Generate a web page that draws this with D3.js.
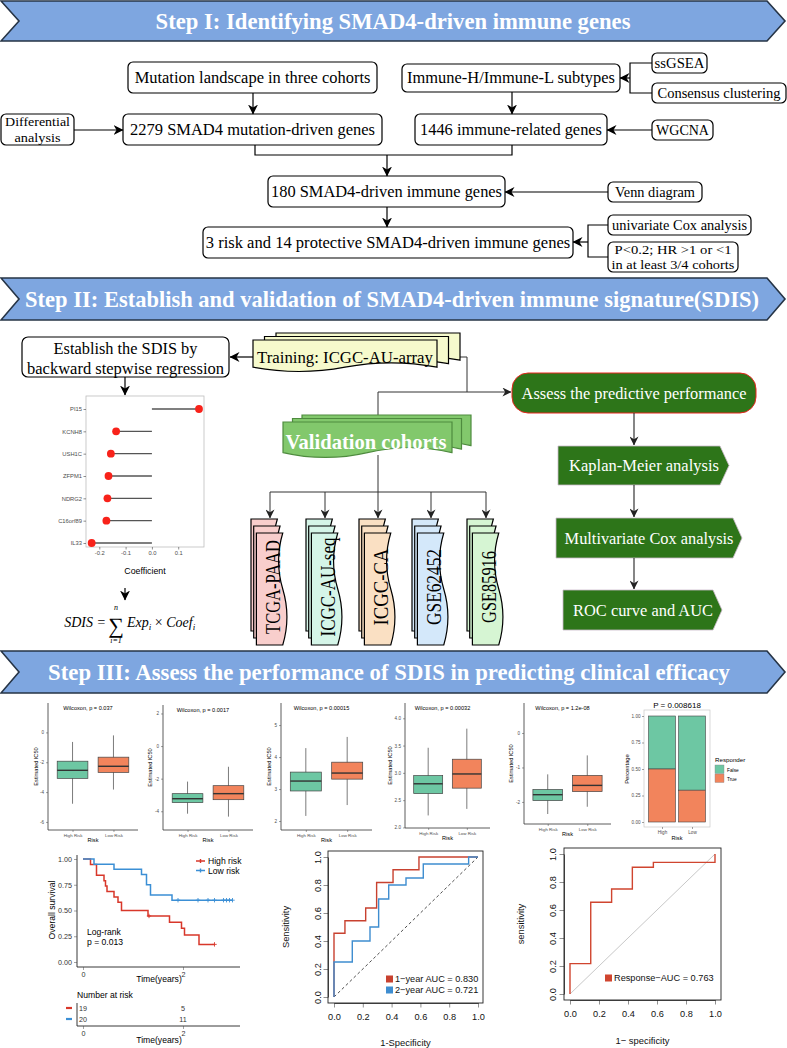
<!DOCTYPE html>
<html><head><meta charset="utf-8">
<script src="https://cdn.jsdelivr.net/npm/d3@7/dist/d3.min.js"></script>
<style>html,body{margin:0;padding:0;background:#fff;} svg{display:block;}</style>
</head><body>
<svg id="chart" width="787" height="1048" viewBox="0 0 787 1048"></svg>
<script>
// ================= DATA =================
const stepTitles = [
  "Step I: Identifying SMAD4-driven immune genes",
  "Step II: Establish and validation of SMAD4-driven immune signature(SDIS)",
  "Step III: Assess the performance of SDIS in predicting clinical efficacy"
];
const step1Labels = [
  ["Mutation landscape in three cohorts"],
  ["Differential", "analysis"],
  ["2279 SMAD4 mutation-driven genes"],
  ["Immune-H/Immune-L subtypes"],
  ["ssGSEA"],
  ["Consensus clustering"],
  ["1446 immune-related genes"],
  ["WGCNA"],
  ["180 SMAD4-driven immune genes"],
  ["Venn diagram"],
  ["3 risk and 14 protective SMAD4-driven immune genes"],
  ["univariate Cox analysis"],
  ["P<0.2; HR >1 or <1", "in at least 3/4 cohorts"]
];
const establishLabel = ["Establish the SDIS by", "backward stepwise regression"];
const trainingLabel = "Training: ICGC-AU-array";
const validationLabel = "Validation cohorts";
const cohorts = ["TCGA-PAAD", "ICGC-AU-seq", "ICGC-CA", "GSE62452", "GSE85916"];
const assessSteps = ["Assess the predictive performance", "Kaplan-Meier analysis", "Multivariate Cox analysis", "ROC curve and AUC"];

const genes = ["PI15", "KCNH8", "USH1C", "ZFPM1", "NDRG2", "C16orf89", "IL33"];
const coefs = [0.179, -0.136, -0.156, -0.165, -0.169, -0.173, -0.229];
const coefTicks = [-0.2, -0.1, 0.0, 0.1];

const riskGroups = ["High Risk", "Low Risk"];
const wilcoxLabels = ["Wilcoxon, p = 0.037", "Wilcoxon, p = 0.0017", "Wilcoxon, p = 0.00015", "Wilcoxon, p = 0.00032", "Wilcoxon, p = 1.2e-08"];
// [lower whisker, Q1, median, Q3, upper whisker]
const boxHigh = [[-4.78,-3.08,-2.54,-1.93,-0.64],[-4.15,-3.47,-3.23,-2.92,-2.18],[2.16,2.94,3.25,3.53,4.28],[2.22,2.62,2.80,2.95,3.46],[-2.35,-1.96,-1.79,-1.64,-1.20]];
const boxLow  = [[-3.83,-2.68,-2.27,-1.66,-0.20],[-4.33,-3.29,-2.92,-2.43,-1.27],[2.50,3.31,3.50,3.84,4.63],[2.34,2.72,2.98,3.25,3.81],[-2.14,-1.70,-1.52,-1.23,-0.65]];
const boxYDomains = [[-6.54,1.97],[-5.15,2.52],[1.72,5.69],[1.99,4.28],[-2.64,0.87]];
const boxYTicks = [[-6,-4,-2,0],[-4,-2,0,2],[2,3,4,5],[2.0,2.5,3.0,3.5,4.0],[-2,-1,0]];

const responderGroups = ["High", "Low"];
const responderTrue = [0.50, 0.30];
const responderLevels = ["False", "True"];
const responderTitle = "P = 0.008618";
const pctTicks = [0, 0.25, 0.5, 0.75, 1];

const kmHigh = [[0,1],[0.15,0.947],[0.27,0.842],[0.42,0.789],[0.45,0.737],[0.48,0.684],[0.62,0.632],[0.70,0.579],[0.77,0.50],[1.30,0.447],[1.73,0.385],[1.97,0.327],[2.03,0.262],[2.32,0.171],[2.63,0.171]];
const kmLow = [[0,1],[0.22,0.95],[0.62,0.90],[1.17,0.85],[1.27,0.75],[1.35,0.65],[1.78,0.60],[2.99,0.60]];
const kmHighCensor = [[1.32,0.447],[2.63,0.171]];
const kmLowCensor = [[1.90,0.6],[2.30,0.6],[2.50,0.6],[2.63,0.6],[2.81,0.6],[2.87,0.6],[2.93,0.6],[2.99,0.6]];
const kmLegend = ["High risk", "Low risk"];
const kmTicksX = [0, 2];
const kmTicksY = [0, 0.25, 0.5, 0.75, 1];
const atRiskHigh = [19, 5];
const atRiskLow = [20, 11];

const roc1Year = [[0,0],[0,0.455],[0.076,0.455],[0.076,0.545],[0.22,0.545],[0.22,0.636],[0.296,0.636],[0.296,0.818],[0.41,0.818],[0.41,0.909],[0.59,0.909],[0.59,1],[1,1]];
const roc2Year = [[0,0],[0,0.25],[0.127,0.25],[0.127,0.40],[0.25,0.40],[0.25,0.50],[0.31,0.50],[0.31,0.70],[0.38,0.70],[0.38,0.80],[0.50,0.80],[0.50,0.85],[0.62,0.85],[0.62,0.95],[0.935,0.95],[0.935,1],[1,1]];
const rocResponse = [[0,0],[0,0.217],[0.143,0.217],[0.143,0.655],[0.287,0.655],[0.287,0.75],[0.43,0.75],[0.43,0.905],[0.575,0.905],[0.575,0.94],[1,0.94],[1,1]];
const rocTicks = [0, 0.2, 0.4, 0.6, 0.8, 1.0];
const rocLegend1 = ["1\u2212year AUC = 0.830", "2\u2212year AUC = 0.721"];
const rocLegend2 = ["Response\u2212AUC = 0.763"];

// ================= HELPERS =================
const SERIF = "'Liberation Serif','Times New Roman',Times,serif";
const SANS = "'Liberation Sans',Arial,Helvetica,sans-serif";
const svg = d3.select('#chart');
svg.append('rect').attr('width', 787).attr('height', 1048).attr('fill', '#fff');
const defs = svg.append('defs');
function marker(id, color, s) {
  defs.append('marker').attr('id', id).attr('viewBox', '0 0 10 10').attr('refX', 9.5).attr('refY', 5)
    .attr('markerWidth', s).attr('markerHeight', s).attr('markerUnits', 'userSpaceOnUse').attr('orient', 'auto')
    .append('path').attr('d', 'M0,0 L10,5 L0,10 L3,5 Z').attr('fill', color);
}
marker('arr', '#000', 10);
marker('arrs', '#222', 9);

// text helper: o.len fits the text to a target length by horizontal scaling
function T(x, y, s, o = {}) {
  const t = svg.append('text').attr('x', x).attr('y', y).text(s)
    .attr('font-family', o.ff || SERIF).attr('font-size', o.fs || 16.5)
    .attr('text-anchor', o.anchor || 'middle').attr('fill', o.fill || '#000');
  if (o.fw) t.attr('font-weight', o.fw);
  if (o.fst) t.attr('font-style', o.fst);
  if (o.len) {
    const nat = t.node().getComputedTextLength();
    const sx = nat > 0 ? o.len / nat : 1;
    t.attr('x', 0).attr('y', 0)
      .attr('transform', `translate(${x},${y})${o.rot ? ` rotate(${o.rot})` : ''} scale(${sx.toFixed(4)},1)`);
  } else if (o.rot) {
    t.attr('transform', `rotate(${o.rot},${x},${y})`);
  }
  return t;
}
function A(pts, o = {}) {
  return svg.append('path').attr('d', d3.line()(pts)).attr('fill', 'none')
    .attr('stroke', o.c || '#000').attr('stroke-width', o.w || 1.2)
    .attr('marker-end', o.noArrow ? null : `url(#${o.m || 'arr'})`);
}
function L(pts, o = {}) { return A(pts, Object.assign({}, o, { noArrow: true })); }

// ================= BANNERS =================
const bannerY = [[1, 41], [278, 320], [651, 693]];
const bannerLen = [475, 734, 682];
const bannerCx = [393, 392, 389];
stepTitles.forEach((s, i) => {
  const [y0, y1] = bannerY[i], ym = (y0 + y1) / 2;
  svg.append('path').attr('d', `M1,${y0}L767,${y0}L785,${ym}L767,${y1}L1,${y1}L19,${ym}Z`)
    .attr('fill', '#7EA6E0').attr('stroke', '#263446').attr('stroke-width', 1.6);
  T(bannerCx[i], ym + 8, s, { fs: 24, fw: 'bold', fill: '#fff', len: bannerLen[i] });
});

// ================= STEP I =================
const s1Layout = [ // x, y, w, h, fontsize, text widths, line spacing
  [128, 62, 249, 31, 16.5, [236]],
  [1, 114, 73, 31, 13.5, [65, 46], 15.5],
  [123, 114, 259, 31, 16.5, [245]],
  [402, 64, 218, 28, 16.5, [208]],
  [652, 53, 55, 20, 14.5, [50]],
  [652, 83, 134, 20, 14.5, [123]],
  [415, 114, 192, 31, 16.5, [182]],
  [652, 120, 61, 20, 14.5, [53]],
  [268, 176, 237, 31, 16.5, [231]],
  [608, 182, 94, 20, 14.5, [80]],
  [203, 227, 370, 31, 16.5, [365]],
  [608, 215, 143, 20, 14.5, [135]],
  [608, 242, 130, 30, 13, [117, 123], 14.5]
];
step1Labels.forEach((lines, i) => {
  const [x, y, w, h, fs, lens, lh] = s1Layout[i];
  svg.append('rect').attr('x', x).attr('y', y).attr('width', w).attr('height', h).attr('rx', 5)
    .attr('fill', '#fff').attr('stroke', '#000').attr('stroke-width', 1.2);
  lines.forEach((ln, j) => {
    const cy = y + h / 2 + (j - (lines.length - 1) / 2) * (lh || fs);
    T(x + w / 2, cy + fs * 0.33, ln, { fs, len: lens[j] });
  });
});
A([[253, 93], [253, 114]]);
A([[74, 130], [123, 130]]);
L([[255, 145], [255, 155], [512, 155], [512, 145]]);
A([[387, 155], [387, 176]]);
A([[512, 92], [512, 114]]);
L([[652, 63], [630, 63], [630, 93], [652, 93]]);
A([[630, 78], [620, 78]]);
A([[652, 130], [607, 130]]);
A([[608, 192], [505, 192]]);
A([[387, 207], [387, 227]]);
L([[608, 225], [588, 225], [588, 257], [608, 257]]);
A([[588, 242], [573, 242]]);

// ================= STEP II =================
svg.append('rect').attr('x', 22).attr('y', 337).attr('width', 207).attr('height', 40).attr('rx', 6)
  .attr('fill', '#fff').attr('stroke', '#000').attr('stroke-width', 1.2);
T(125.5, 348 + 5.6, establishLabel[0], { fs: 17, len: 144 });
T(125.5, 368 + 5.6, establishLabel[1], { fs: 17, len: 197 });
A([[253, 357], [230, 357]]);
A([[125, 377], [125, 395]]);

// lollipop
const lx = d3.scaleLinear().domain([-0.2505, 0.198]).range([86, 204]);
const ly = d3.scalePoint().domain(genes).range([409, 543]);
svg.append('rect').attr('x', 86).attr('y', 396).attr('width', 118).attr('height', 151)
  .attr('fill', '#fff').attr('stroke', '#bdbdbd').attr('stroke-width', 0.8);
genes.forEach((g, i) => {
  svg.append('line').attr('x1', lx(0)).attr('x2', lx(coefs[i])).attr('y1', ly(g)).attr('y2', ly(g))
    .attr('stroke', '#555').attr('stroke-width', 1.3);
});
genes.forEach((g, i) => {
  svg.append('circle').attr('cx', lx(coefs[i])).attr('cy', ly(g)).attr('r', 3.9).attr('fill', '#F8221A');
});
const lyAx = svg.append('g').attr('transform', 'translate(86,0)').call(d3.axisLeft(ly).tickSize(2.5).tickPadding(1.5));
const lxAx = svg.append('g').attr('transform', 'translate(0,547)')
  .call(d3.axisBottom(lx).tickValues(coefTicks).tickSize(2.5).tickPadding(1.5).tickFormat(d => d === 0 ? '0.0' : d.toFixed(1)));
[lyAx, lxAx].forEach(a => {
  a.select('.domain').remove();
  a.selectAll('.tick line').attr('stroke', '#444').attr('stroke-width', 0.6);
  a.selectAll('.tick text').attr('font-family', SANS).attr('font-size', 5.8).attr('fill', '#4d4d4d');
});
T(145, 574, 'Coefficient', { ff: SANS, fs: 8.8 });
A([[125, 588], [125, 600]]);

// formula
T(85, 627, 'SDIS =', { fs: 14, fst: 'italic' });
T(116, 633, '\u2211', { fs: 22 });
T(116, 609.5, 'n', { fs: 8, fst: 'italic' });
T(116, 643, 'i=1', { fs: 8, fst: 'italic' });
const fx = svg.append('text').attr('x', 127).attr('y', 627).attr('font-family', SERIF).attr('font-size', 14).attr('font-style', 'italic');
fx.append('tspan').text('Exp');
fx.append('tspan').text('i').attr('font-size', 9).attr('dy', 3);
fx.append('tspan').text(' \u00d7 ').attr('dy', -3).attr('font-style', 'normal');
fx.append('tspan').text('Coef');
fx.append('tspan').text('i').attr('font-size', 9).attr('dy', 3);

// multi-document shapes
function docPath(x, y, w, h) {
  const d = h * 0.3;
  return `M${x},${y}H${x + w}V${y + h - d / 2}Q${x + w * 0.75},${y + h - d * 1.4} ${x + w / 2},${y + h - d / 2}Q${x + w * 0.25},${y + h + d * 0.4} ${x},${y + h - d / 2}Z`;
}
function vdocPath(x, y, w, h) {
  const d = w * 0.3, xr = x + w - d / 2;
  return `M${x},${y}H${xr}Q${x + w - d * 1.4},${y + h * 0.25} ${xr},${y + h / 2}Q${x + w + d * 0.4},${y + h * 0.75} ${xr},${y + h}H${x}Z`;
}
function multiDoc(x, y, w, h, dx, dy, fill, stroke) {
  for (let k = 2; k >= 0; k--) {
    svg.append('path').attr('d', docPath(x + k * dx, y - k * dy, w, h))
      .attr('fill', fill).attr('stroke', stroke).attr('stroke-width', 1.2);
  }
}
L([[460, 357], [467, 357], [467, 392]], { c: '#333', w: 1 });
A([[378, 392], [511, 392]], { c: '#333', w: 1, m: 'arrs' });
L([[378, 392], [378, 416]], { c: '#333', w: 1 });
L([[378, 455], [378, 492]], { c: '#333', w: 1 });
const cohortX = [270, 325, 378, 431, 486];
L([[cohortX[0], 492], [cohortX[4], 492]], { c: '#333', w: 1 });
cohortX.forEach(ax => A([[ax, 492], [ax, 518]], { c: '#333', w: 1, m: 'arrs' }));

multiDoc(253, 340, 184, 32, 11.5, 3.5, '#F6FACC', '#000');
T(345, 357 + 5.5, trainingLabel, { fs: 16.5, len: 176 });
multiDoc(283, 422, 169, 36, 9.5, 3.5, '#82C86C', '#4E8B3E');
T(366, 442 + 7, validationLabel, { fs: 21, fw: 'bold', fill: '#fff', len: 161 });

const cohortFill = ['#F8CECC', '#D5F5E8', '#FAE0C3', '#D4E8FA', '#D6F5D3'];
const cohortLen = [94, 99, 77, 76, 72];
cohorts.forEach((c, i) => {
  const ax = cohortX[i];
  for (let k = 0; k < 3; k++) {
    svg.append('path').attr('d', vdocPath(ax - 19 + 2.7 * k, 519 + 7 * k, 31, 112))
      .attr('fill', cohortFill[i]).attr('stroke', '#000').attr('stroke-width', 1.2);
  }
  T(ax + 9.5, 587, c, { fs: 20, len: cohortLen[i], rot: -90 });
});

// right green column
svg.append('rect').attr('x', 512).attr('y', 373).attr('width', 244).attr('height', 40).attr('rx', 16)
  .attr('fill', '#2D7519').attr('stroke', '#E8261E').attr('stroke-width', 1);
T(634, 393 + 5.5, assessSteps[0], { fs: 16.5, fill: '#fff', len: 225 });
const pent = [[558, 720, 729, 446, 485, 150, 644], [556, 733, 742, 518, 558, 169, 649], [563, 713, 722, 590, 630, 140, 643]];
pent.forEach((p, i) => {
  const [x0, x1, tip, y0, y1, len, cx] = p, ym = (y0 + y1) / 2;
  svg.append('path').attr('d', `M${x0},${y0}H${x1}L${tip},${ym}L${x1},${y1}H${x0}Z`)
    .attr('fill', '#2D7519').attr('stroke', '#c9b9c9').attr('stroke-width', 0.8);
  T(cx, ym + 5.5, assessSteps[i + 1], { fs: 16.5, fill: '#fff', len });
});
A([[634, 413], [634, 445]], { c: '#222', w: 1.1, m: 'arrs' });
A([[634, 485], [634, 517]], { c: '#222', w: 1.1, m: 'arrs' });
A([[634, 558], [634, 589]], { c: '#222', w: 1.1, m: 'arrs' });

// ================= STEP III =================
const GREEN = '#6DC7A3', ORANGE = '#F2845C';
function styleAxis(a, fs, col) {
  a.selectAll('.tick text').attr('font-family', SANS).attr('font-size', fs).attr('fill', col || '#4d4d4d');
  a.selectAll('.tick line').attr('stroke', '#444').attr('stroke-width', 0.5);
  a.select('.domain').attr('stroke', '#333').attr('stroke-width', 0.8);
}
const bpLayout = [
  { x0: 48, x1: 138, yt: 703, yb: 830, ylx: 38 },
  { x0: 163, x1: 253, yt: 705, yb: 830, ylx: 152 },
  { x0: 281, x1: 372, yt: 703, yb: 830, ylx: 271 },
  { x0: 405, x1: 490, yt: 703, yb: 828, ylx: 392 },
  { x0: 524, x1: 611, yt: 703, yb: 824, ylx: 513 }
];
bpLayout.forEach((b, i) => {
  const y = d3.scaleLinear().domain(boxYDomains[i]).range([b.yb, b.yt]);
  const x = d3.scalePoint().domain(riskGroups).range([b.x0, b.x1]).padding(0.6);
  const bw = x.step() * 0.75;
  [boxHigh[i], boxLow[i]].forEach((s, j) => {
    const cx = x(riskGroups[j]);
    svg.append('line').attr('x1', cx).attr('x2', cx).attr('y1', y(s[0])).attr('y2', y(s[4])).attr('stroke', '#444').attr('stroke-width', 0.7);
    svg.append('rect').attr('x', cx - bw / 2).attr('y', y(s[3])).attr('width', bw).attr('height', y(s[1]) - y(s[3]))
      .attr('fill', j === 0 ? GREEN : ORANGE).attr('stroke', '#444').attr('stroke-width', 0.7);
    svg.append('line').attr('x1', cx - bw / 2).attr('x2', cx + bw / 2).attr('y1', y(s[2])).attr('y2', y(s[2])).attr('stroke', '#333').attr('stroke-width', 1.4);
  });
  const fmt = i === 3 ? d3.format('.1f') : (d => String(d));
  const ay = svg.append('g').attr('transform', `translate(${b.x0},0)`).call(d3.axisLeft(y).tickValues(boxYTicks[i]).tickSize(2).tickPadding(2).tickFormat(fmt));
  ay.select('.domain').attr('d', `M0,${b.yt}V${b.yb}`);
  styleAxis(ay, 4.6);
  const ax = svg.append('g').attr('transform', `translate(0,${b.yb})`).call(d3.axisBottom(x).tickSize(2).tickPadding(1.5));
  ax.select('.domain').attr('d', `M${b.x0},0H${b.x1}`);
  styleAxis(ax, 4.4);
  T((b.x0 + b.x1) / 2 - 5, b.yt + 7, wilcoxLabels[i], { ff: SANS, fs: 5.6 });
  T((b.x0 + b.x1) / 2, b.yb + 12, 'Risk', { ff: SANS, fs: 5.6 });
  T(b.ylx, (b.yt + b.yb) / 2, 'Estimated IC50', { ff: SANS, fs: 5.6, rot: -90 });
});

// stacked responder bar
const sbx = d3.scalePoint().domain(responderGroups).range([644, 710]).padding(0.6);
const sby = d3.scaleLinear().domain([0, 1]).range([822, 716]);
svg.append('rect').attr('x', 644).attr('y', 710).attr('width', 66).attr('height', 117).attr('fill', '#fff').attr('stroke', '#c8c8c8').attr('stroke-width', 0.7);
const sbw = sbx.step() * 0.9;
responderGroups.forEach((g, i) => {
  const cx = sbx(g);
  svg.append('rect').attr('x', cx - sbw / 2).attr('y', sby(1)).attr('width', sbw).attr('height', sby(responderTrue[i]) - sby(1))
    .attr('fill', GREEN).attr('stroke', '#444').attr('stroke-width', 0.6);
  svg.append('rect').attr('x', cx - sbw / 2).attr('y', sby(responderTrue[i])).attr('width', sbw).attr('height', sby(0) - sby(responderTrue[i]))
    .attr('fill', ORANGE).attr('stroke', '#444').attr('stroke-width', 0.6);
});
const sbay = svg.append('g').attr('transform', 'translate(644,0)').call(d3.axisLeft(sby).tickValues(pctTicks).tickSize(2).tickPadding(1.5).tickFormat(d3.format('.2f')));
sbay.select('.domain').remove(); styleAxis(sbay, 4.6);
const sbax = svg.append('g').attr('transform', 'translate(0,827)').call(d3.axisBottom(sbx).tickSize(2).tickPadding(1.5));
sbax.select('.domain').remove(); styleAxis(sbax, 4.6);
T(677, 708, responderTitle, { ff: SANS, fs: 8 });
T(677, 840, 'Risk', { ff: SANS, fs: 5.6 });
T(629, 769, 'Percentage', { ff: SANS, fs: 5.8, rot: -90 });
T(715, 762, 'Responder', { ff: SANS, fs: 6.2, anchor: 'start' });
responderLevels.forEach((lv, k) => {
  svg.append('rect').attr('x', 715).attr('y', 765 + k * 9).attr('width', 9).attr('height', 8.5)
    .attr('fill', k === 0 ? GREEN : ORANGE).attr('stroke', '#888').attr('stroke-width', 0.4);
  T(727, 771.5 + k * 9, lv, { ff: SANS, fs: 4.8, anchor: 'start' });
});

// ================= KM =================
const kmX = d3.scaleLinear().domain([0, 2]).range([83, 183]);
const kmY = d3.scaleLinear().domain([0, 1]).range([962, 859]);
const RED = '#D8372A', BLUE = '#3B8FD5';
L([[77, 855], [77, 967], [240, 967]], { c: '#222', w: 0.9 });
const kmAy = svg.append('g').attr('transform', 'translate(77,0)').call(d3.axisLeft(kmY).tickValues(kmTicksY).tickSize(3).tickPadding(2).tickFormat(d3.format('.2f')));
kmAy.select('.domain').remove(); styleAxis(kmAy, 7.2, '#333');
const kmAx = svg.append('g').attr('transform', 'translate(0,967)').call(d3.axisBottom(kmX).tickValues(kmTicksX).tickSize(3).tickPadding(2).tickFormat(d3.format('d')));
kmAx.select('.domain').remove(); styleAxis(kmAx, 7.2, '#333');
const kmLine = d3.line().x(d => kmX(d[0])).y(d => kmY(d[1])).curve(d3.curveStepAfter);
[[kmHigh, RED, kmHighCensor], [kmLow, BLUE, kmLowCensor]].forEach(([data, col, cens]) => {
  svg.append('path').attr('d', kmLine(data)).attr('fill', 'none').attr('stroke', col).attr('stroke-width', 1.5);
  cens.forEach(c => {
    svg.append('path').attr('d', `M${kmX(c[0]) - 2.2},${kmY(c[1])}h4.4M${kmX(c[0])},${kmY(c[1]) - 2.2}v4.4`).attr('stroke', col).attr('stroke-width', 0.9);
  });
});
T(55, 910, 'Overall survival', { ff: SANS, fs: 8.6, rot: -90 });
T(159, 982, 'Time(years)', { ff: SANS, fs: 8.6 });
kmLegend.forEach((lg, k) => {
  const yy = 861 + k * 9.5, col = k === 0 ? RED : BLUE;
  svg.append('path').attr('d', `M196,${yy}h9M200.5,${yy - 2}v4`).attr('stroke', col).attr('stroke-width', 1.4);
  T(208, yy + 3, lg, { ff: SANS, fs: 8.6, anchor: 'start' });
});
T(87, 935, 'Log-rank', { ff: SANS, fs: 8.6, anchor: 'start' });
T(87, 945, 'p = 0.013', { ff: SANS, fs: 8.6, anchor: 'start' });
T(77, 998, 'Number at risk', { ff: SANS, fs: 8.6, anchor: 'start' });
L([[77, 1003], [77, 1026], [240, 1026]], { c: '#222', w: 0.9 });
[[atRiskHigh, RED, 1008], [atRiskLow, BLUE, 1019]].forEach(([vals, col, yy]) => {
  svg.append('line').attr('x1', 66).attr('x2', 72).attr('y1', yy).attr('y2', yy).attr('stroke', col).attr('stroke-width', 2.2);
  vals.forEach((v, k) => T(kmX(kmTicksX[k]), yy + 2.6, String(v), { ff: SANS, fs: 7.2, fill: '#333' }));
});
const kmAx2 = svg.append('g').attr('transform', 'translate(0,1026)').call(d3.axisBottom(kmX).tickValues(kmTicksX).tickSize(3).tickPadding(1.5).tickFormat(d3.format('d')));
kmAx2.select('.domain').remove(); styleAxis(kmAx2, 7.2, '#333');
T(159, 1043, 'Time(years)', { ff: SANS, fs: 8.6 });

// ================= ROC =================
function rocPanel(box, xr, yr, curves, legend, legPos, diagDash, ylab, xlab, ylx, xly) {
  const x = d3.scaleLinear().domain([0, 1]).range(xr);
  const y = d3.scaleLinear().domain([0, 1]).range(yr);
  const [bx0, by0, bx1, by1] = box;
  svg.append('line').attr('x1', x(0)).attr('y1', y(0)).attr('x2', x(1)).attr('y2', y(1))
    .attr('stroke', diagDash ? '#222' : '#c8c8c8').attr('stroke-width', diagDash ? 0.8 : 1)
    .attr('stroke-dasharray', diagDash ? '3,2.5' : null);
  const ln = d3.line().x(d => x(d[0])).y(d => y(d[1]));
  curves.forEach(([data, col]) => {
    svg.append('path').attr('d', ln(data)).attr('fill', 'none').attr('stroke', col).attr('stroke-width', 1.4);
  });
  svg.append('rect').attr('x', bx0).attr('y', by0).attr('width', bx1 - bx0).attr('height', by1 - by0)
    .attr('fill', 'none').attr('stroke', '#222').attr('stroke-width', 0.9);
  const ax = svg.append('g').attr('transform', `translate(0,${by1})`).call(d3.axisBottom(x).tickValues(rocTicks).tickSize(4.5).tickSizeOuter(0).tickPadding(6).tickFormat(d3.format('.1f')));
  styleAxis(ax, 9.2, '#111');
  const ay = svg.append('g').attr('transform', `translate(${bx0},0)`).call(d3.axisLeft(y).tickValues(rocTicks).tickSize(4.5).tickSizeOuter(0).tickPadding(6).tickFormat(d3.format('.1f')));
  styleAxis(ay, 9.2, '#111');
  ay.selectAll('.tick text').attr('text-anchor', 'middle').attr('transform', 'rotate(-90)').attr('x', 0).attr('dy', 0).attr('y', -(bx0 - ylx) + 6 + 3.3);
  ax.selectAll('.domain, .tick line').attr('stroke', '#222');
  ay.selectAll('.domain, .tick line').attr('stroke', '#222');
  legend.forEach((lg, k) => {
    const [lx0, ly0] = legPos;
    svg.append('rect').attr('x', lx0).attr('y', ly0 + k * 11 - 3.5).attr('width', 7).attr('height', 7).attr('fill', curves[k][1]);
    T(lx0 + 9, ly0 + k * 11 + 3.3, lg, { ff: SANS, fs: 9.2, anchor: 'start', fill: '#111' });
  });
  T(ylx - 23, (by0 + by1) / 2, ylab, { ff: SANS, fs: 9.4, rot: -90, fill: '#111' });
  T((bx0 + bx1) / 2, xly, xlab, { ff: SANS, fs: 9.4, fill: '#111' });
}
rocPanel([328, 851, 483, 1003], [334, 478], [997, 857], [[roc1Year, '#C8412F'], [roc2Year, '#3E8DD0']],
  rocLegend1, [386, 979], true, 'Sensitivity', '1-Specificity', 312, 1046);
rocPanel([564, 848, 721, 1000], [570, 715], [994, 854], [[rocResponse, '#D0452F']],
  rocLegend2, [605, 978], false, 'sensitivity', '1\u2212 specificity', 547, 1044);
</script>
</body></html>
